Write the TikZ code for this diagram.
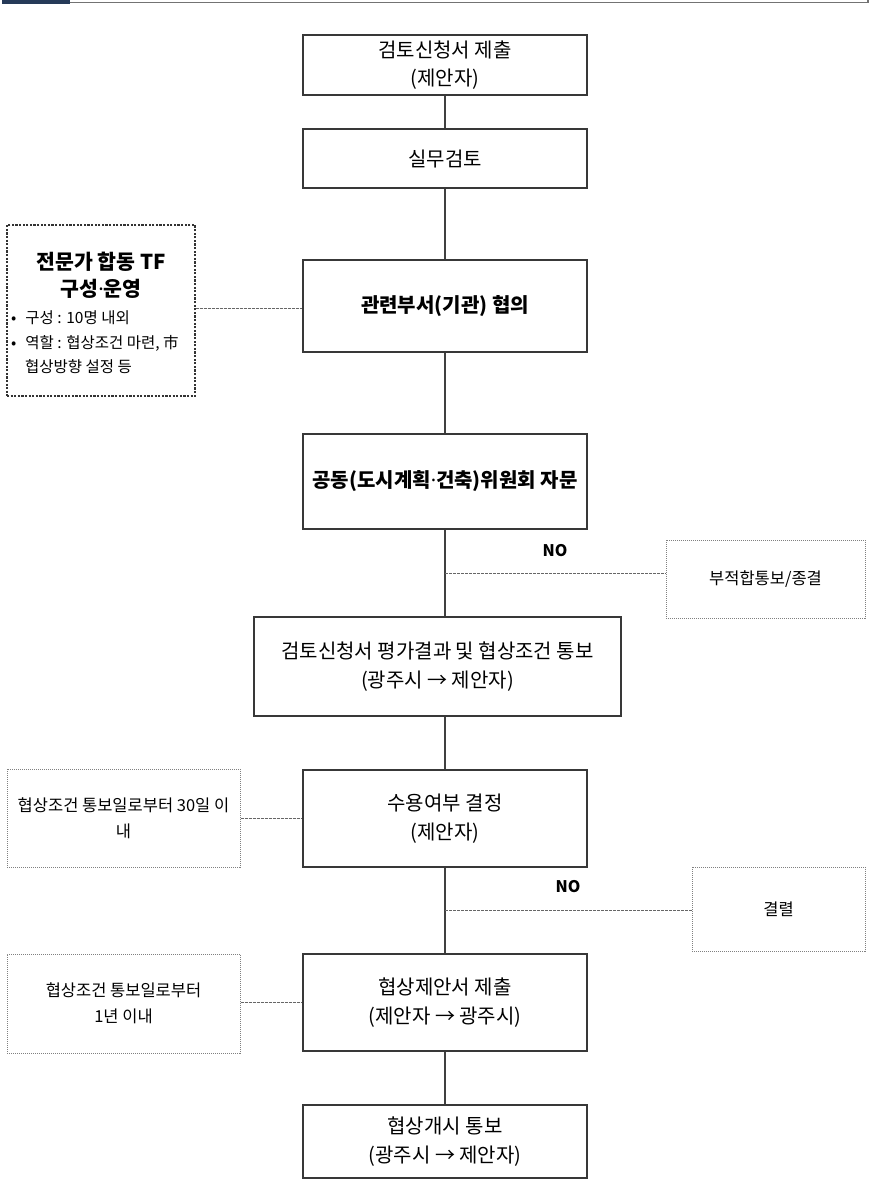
\documentclass[tikz,border=0pt]{standalone}
\usepackage{fontspec}
\setmainfont{Noto Sans CJK KR}
\newfontfamily\latinfont{Noto Sans}
\newcommand{\mdot}{{\latinfont ·}}
\begin{document}
\begin{tikzpicture}[x=1pt,y=-1pt,
  mainbox/.style={draw=black!78,line width=1.3pt,inner sep=0pt,align=center,
    font=\fontsize{20}{28.5}\selectfont},
  sidebox/.style={draw=black!50,densely dotted,line width=1pt,inner sep=0pt,align=center,
    font=\fontsize{16.5}{26}\selectfont},
  tfbox/.style={draw=black!80,dash pattern=on 2.2pt off 1.4pt,line width=1.1pt,inner sep=0pt},
  flow/.style={draw=black!75,line width=1.6pt},
  sidelink/.style={draw=black!60,dash pattern=on 3pt off 1pt,line width=1pt},
  nolabel/.style={font=\fontsize{16}{18}\selectfont\bfseries,inner sep=0pt},
  tftext/.style={font=\fontsize{15.5}{18}\selectfont,inner sep=0pt,anchor=west}]
\useasboundingbox (0,0) rectangle (872,1195);
\fill[white] (0,0) rectangle (872,1195);
% header bar
\fill[fill={rgb,255:red,38;green,58;blue,88}] (2,0) rectangle (70,3.5) coordinate (hdr);
\draw[black!55,line width=1.2pt] (70,2.5) -- (868,2.5) -- (868,0);

% main flow boxes
\node[mainbox,minimum width=284pt,minimum height=60pt] (b1) at (445,65) {검토신청서 제출\\(제안자)};
\node[mainbox,minimum width=284pt,minimum height=59pt] (b2) at (445,158.5) {실무검토};
\node[mainbox,minimum width=284pt,minimum height=92pt,font=\fontsize{20}{28}\selectfont\bfseries] (b3) at (445,306) {관련부서(기관) 협의};
\node[mainbox,minimum width=284pt,minimum height=95pt,font=\fontsize{20}{28}\selectfont\bfseries] (b4) at (445,481.5) {공동(도시계획\mdot 건축)위원회 자문};
\node[mainbox,minimum width=367pt,minimum height=99pt] (b5) at (437.5,666.5) {검토신청서 평가결과 및 협상조건 통보\\(광주시 → 제안자)};
\node[mainbox,minimum width=284pt,minimum height=97pt] (b6) at (445,818.5) {수용여부 결정\\(제안자)};
\node[mainbox,minimum width=284pt,minimum height=97pt] (b7) at (445,1002.5) {협상제안서 제출\\(제안자 → 광주시)};
\node[mainbox,minimum width=284pt,minimum height=73pt] (b8) at (445,1141.5) {협상개시 통보\\(광주시 → 제안자)};

% vertical flow
\draw[flow] (b1.south) -- (b2.north);
\draw[flow] (b2.south) -- (b3.north);
\draw[flow] (b3.south) -- (b4.north);
\draw[flow] (b4.south) -- (b4.south |- b5.north);
\draw[flow] (b4.south |- b5.south) -- (b6.north);
\draw[flow] (b6.south) -- (b7.north);
\draw[flow] (b7.south) -- (b8.north);

% TF box
\node[tfbox,minimum width=188pt,minimum height=171pt] (tf) at (101,310.5) {};
\node[font=\fontsize{20.5}{27}\selectfont\bfseries,align=center,inner sep=0pt] (tft) at (101,275) {전문가 합동 TF\\구성\mdot 운영};
\node[tftext] (tf1) at (11,318) {•\hspace{9pt}구성 : 10명 내외};
\node[tftext] (tf2) at (11,343) {•\hspace{9pt}역할 : 협상조건 마련, 市};
\node[tftext] (tf3) at (25,367) {협상방향 설정 등};
\draw[sidelink] (tf.east |- 0,308) -- (b3.west |- 0,308);

% NO branch 1
\node[sidebox,minimum width=199pt,minimum height=78pt] (r1) at (765.5,579) {부적합통보/종결};
\coordinate (j1) at (445,573);
\draw[sidelink] (j1) -- (r1.west |- j1);
\node[nolabel] (no1) at (555,551) {NO};

% left box 2
\node[sidebox,minimum width=233pt,minimum height=98pt] (l2) at (123.5,818) {협상조건 통보일로부터 30일 이\\내};
\draw[sidelink] (l2.east) -- (b6.west |- l2.east);

% NO branch 2
\node[sidebox,minimum width=173pt,minimum height=84pt] (r2) at (778.5,909) {결렬};
\coordinate (j2) at (445,910);
\draw[sidelink] (j2) -- (r2.west |- j2);
\node[nolabel] (no2) at (568,887) {NO};

% left box 3
\node[sidebox,minimum width=233pt,minimum height=99pt] (l3) at (123.5,1003.5) {협상조건 통보일로부터\\1년 이내};
\draw[sidelink] (l3.east |- 0,1002) -- (b7.west |- 0,1002);
\end{tikzpicture}
\end{document}
